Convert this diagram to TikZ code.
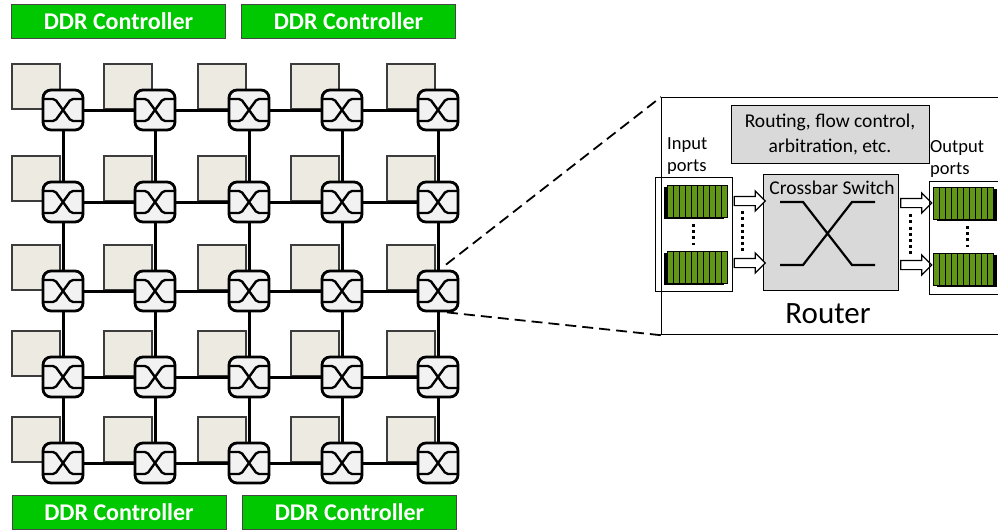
\documentclass[tikz,border=0pt]{standalone}
\usepackage{fontspec}
\setmainfont{Carlito}
\usetikzlibrary{shapes.arrows,shadows}

\definecolor{ddrgreen}{RGB}{0,200,0}
\definecolor{ddredge}{RGB}{70,70,70}
\definecolor{corefill}{RGB}{237,234,226}
\definecolor{coreedge}{RGB}{60,60,60}
\definecolor{swfill}{RGB}{242,242,242}
\definecolor{boxgray}{RGB}{217,217,217}
\definecolor{qgreen}{RGB}{98,150,22}

\pgfdeclarelayer{bg}
\pgfdeclarelayer{mid}
\pgfsetlayers{bg,mid,main}

\tikzset{
  ddr/.style={draw=ddredge, line width=1pt, fill=ddrgreen, text=white,
    font=\fontsize{24}{26}\selectfont\bfseries,
    minimum width=214pt, minimum height=34pt, inner sep=0pt},
  core/.style={draw=coreedge, line width=1.2pt, fill=corefill,
    minimum width=48pt, minimum height=45pt, inner sep=0pt},
  switch/.style={draw=black, line width=2.8pt, fill=swfill, rounded corners=8pt,
    minimum size=40pt, inner sep=0pt,
    path picture={
      \draw[shift={(path picture bounding box.center)}, line width=2.4pt,
            rounded corners=2pt, line cap=butt]
        (-19pt,-11pt) -- (-8pt,-11pt) -- (8pt,11pt) -- (19pt,11pt)
        (-19pt,11pt) -- (-8pt,11pt) -- (8pt,-11pt) -- (19pt,-11pt);
    }},
  link/.style={line width=3pt},
  zoomline/.style={line width=1.8pt, dash pattern=on 11pt off 6pt},
  graybox/.style={draw=black, line width=1pt, fill=boxgray, inner sep=0pt},
  portbox/.style={draw=black, line width=0.9pt, inner sep=0pt, anchor=north west},
  txt/.style={font=\fontsize{18.5}{22}\selectfont, inner sep=0pt},
  queue/.style={draw=black, line width=1pt, fill=qgreen, anchor=north west,
    minimum width=60pt, minimum height=32pt, inner sep=0pt,
    path picture={
      \foreach \k in {1,...,9}
        \draw[line width=1pt] ([xshift=\k*6pt]path picture bounding box.south west)
          -- ([xshift=\k*6pt]path picture bounding box.north west);
    }},
  inqueue/.style={queue, general shadow={fill=black, shadow xshift=-3.5pt, shadow yshift=-1pt}},
  outqueue/.style={queue, general shadow={fill=black, shadow xshift=3.5pt, shadow yshift=-1.5pt}},
  blockarrow/.style={single arrow, draw=black, line width=1.2pt, fill=white,
    minimum height=31pt, inner xsep=0pt, inner ysep=4pt,
    single arrow head extend=5.5pt},
  dotline/.style={line width=3pt, dash pattern=on 3pt off 3.2pt}
}

\begin{document}
\begin{tikzpicture}[x=1pt,y=-1pt]
  \clip (0,0) rectangle (998,531);
  \begin{pgfonlayer}{bg}
    \fill[white] (0,0) rectangle (998,531);
  \end{pgfonlayer}

  % memory controllers
  \node[ddr] (ddr1) at (118.5,21) {DDR Controller};
  \node[ddr] (ddr2) at (348.5,21) {DDR Controller};
  \node[ddr] (ddr3) at (119,512) {DDR Controller};
  \node[ddr] (ddr4) at (349.5,512.5) {DDR Controller};

  % 5x5 mesh: a core tile behind each router
  \foreach \cx [count=\j] in {63,155,249,342,438} {
    \foreach \cy [count=\i] in {110,202,291,377,463} {
      \begin{pgfonlayer}{bg}
        \node[core] (c-\i-\j) at (\cx-27,\cy-23.5) {};
      \end{pgfonlayer}
      \node[switch] (s-\i-\j) at (\cx,\cy) {};
    }
  }

  % mesh links
  \begin{pgfonlayer}{mid}
    \foreach \i in {1,...,5} {
      \foreach \j [evaluate=\j as \jn using int(\j+1)] in {1,...,4} {
        \draw[link] (s-\i-\j.center) -- (s-\i-\jn.center);
        \draw[link] (s-\j-\i.center) -- (s-\jn-\i.center);
      }
    }
  \end{pgfonlayer}

  % router detail
  \node[draw=black, line width=1.2pt, inner sep=0pt, anchor=north west,
        minimum width=360pt, minimum height=237pt] (router) at (661,97) {};
  \draw[zoomline] ([xshift=8pt,yshift=5pt]s-3-5.north) -- (router.north west);
  \draw[zoomline] ([xshift=9pt]s-3-5.south) -- (router.south west);

  \node[graybox, minimum width=198pt, minimum height=58pt] (ctrl) at (830,134) {};
  \node[txt, align=center, font=\fontsize{19.5}{25}\selectfont] (ctrltxt) at (ctrl.center) {Routing, flow control,\\arbitration, etc.};

  \node[graybox, minimum width=135pt, minimum height=116pt] (xbar) at (830.5,232) {};
  \node[txt, anchor=base, font=\fontsize{19.5}{22}\selectfont] (xbartxt) at (832,194) {Crossbar Switch};
  \draw[line width=2.2pt]
    (780,202) -- (803,202) -- (852,265) -- (875,265)
    (780,265) -- (803,265) -- (852,202) -- (875,202);

  \node[txt, anchor=base] (rlabel) at (828,323) {\fontsize{31}{34}\selectfont Router};

  % input side
  \node[portbox, minimum width=77pt, minimum height=114pt] (inbox) at (655,177) {};
  \node[txt, align=left, anchor=north west] (intxt) at (667,137) {Input\\ports};
  \node[inqueue] (iq1) at (667,185) {};
  \node[inqueue] (iq2) at (667,251) {};
  \draw[dotline] ([xshift=-4pt,yshift=-6pt]iq1.south) -- ([xshift=-4pt,yshift=6pt]iq2.north);

  \node[blockarrow] (ia1) at (747.5,201) {};
  \node[blockarrow] (ia2) at (747.5,263) {};
  \draw[dotline] ([xshift=-5pt,yshift=-5pt]ia1.south) -- ([xshift=-5pt,yshift=5pt]ia2.north);

  % output side
  \node[blockarrow] (oa1) at (914,203) {};
  \node[blockarrow] (oa2) at (914,265) {};
  \draw[dotline] ([xshift=-4pt,yshift=-6pt]oa1.south) -- ([xshift=-4pt,yshift=6pt]oa2.north);

  \node[portbox, minimum width=80pt, minimum height=113pt] (outbox) at (929,181) {};
  \node[txt, align=left, anchor=north west] (outtxt) at (930,140) {Output\\ports};
  \node[outqueue] (oq1) at (933,187) {};
  \node[outqueue] (oq2) at (933,253) {};
  \draw[dotline] ([xshift=4pt,yshift=-6pt]oq1.south) -- ([xshift=4pt,yshift=6pt]oq2.north);
\end{tikzpicture}
\end{document}
